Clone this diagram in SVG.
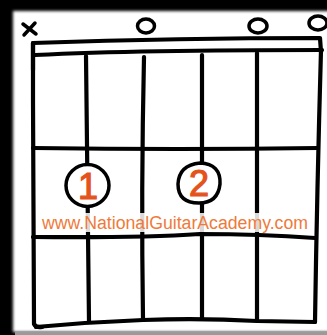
<svg xmlns="http://www.w3.org/2000/svg" width="327" height="335" viewBox="0 0 327 335">
<defs>
<filter id="soft" x="-5%" y="-5%" width="110%" height="110%"><feGaussianBlur stdDeviation="1.5"/></filter>
</defs>
<style>
.ln{fill:none;stroke:#000;stroke-width:4.2;stroke-linecap:round;stroke-linejoin:round}
.mk{fill:none;stroke:#000;stroke-width:3.5;stroke-linecap:round}
.fc{fill:#fff;stroke:#000;stroke-width:3.5}
.num{font-family:"Liberation Sans","DejaVu Sans",sans-serif;font-size:36px;fill:#e4531b;stroke:#e4531b;stroke-width:1.2;text-anchor:middle}
.url{font-family:"Liberation Sans","DejaVu Sans",sans-serif;font-size:18px;fill:#ef7a3a}
</style>
<rect x="0" y="0" width="327" height="335" fill="#000"/>
<rect x="13" y="11" width="330" height="321" fill="#fff" filter="url(#soft)"/>
<rect x="15" y="332" width="312" height="3" fill="#9a9a9a"/>
<g id="markers">
<path class="mk" d="M23 24 L36 34 M35 23 L24 35"/>
<ellipse class="mk" cx="146" cy="26" rx="8.5" ry="7"/>
<ellipse class="mk" cx="258" cy="26" rx="9" ry="7"/>
<ellipse class="mk" cx="318" cy="23" rx="9" ry="7"/>
</g>
<g id="connectors">
<path class="ln" d="M33 70 L33 43 Q180 38 320 38 L321 52"/>
<path class="ln" d="M35 55 Q140 50 322 50"/>
<path class="ln" d="M33 43 L33 100 Q34 220 34 324 Q36 328 42 327"/>
<path class="ln" d="M86 56 Q88 190 89 322"/>
<path class="ln" d="M144 57 Q141 190 143 319"/>
<path class="ln" d="M202 55 L202 319"/>
<path class="ln" d="M257 53 L257 321"/>
<path class="ln" d="M321 50 Q317 190 315 322"/>
<path class="ln" d="M33 148 Q180 150 318 148"/>
<path class="ln" d="M33 237 Q140 238 200 234 Q260 234 315 238"/>
<path class="ln" d="M36 327 Q90 322 143 320 Q202 318 257 321 L315 322"/>
</g>
<g id="finger1">
<ellipse class="fc" cx="87.5" cy="185.5" rx="21.5" ry="21"/>
<text class="num" x="88" y="199">1</text>
</g>
<g id="finger2">
<path class="fc" d="M200 163 Q221 164 220 184 Q218 203 199 203 Q178 203 178 184 Q179 165 200 163 Z"/>
<text class="num" x="199" y="196">2</text>
</g>
<g id="website">
<rect x="40" y="213" width="271" height="19" fill="#fff" opacity="0.85"/>
<text class="url" x="42" y="229" textLength="266" lengthAdjust="spacingAndGlyphs">www.NationalGuitarAcademy.com</text>
</g>
</svg>
